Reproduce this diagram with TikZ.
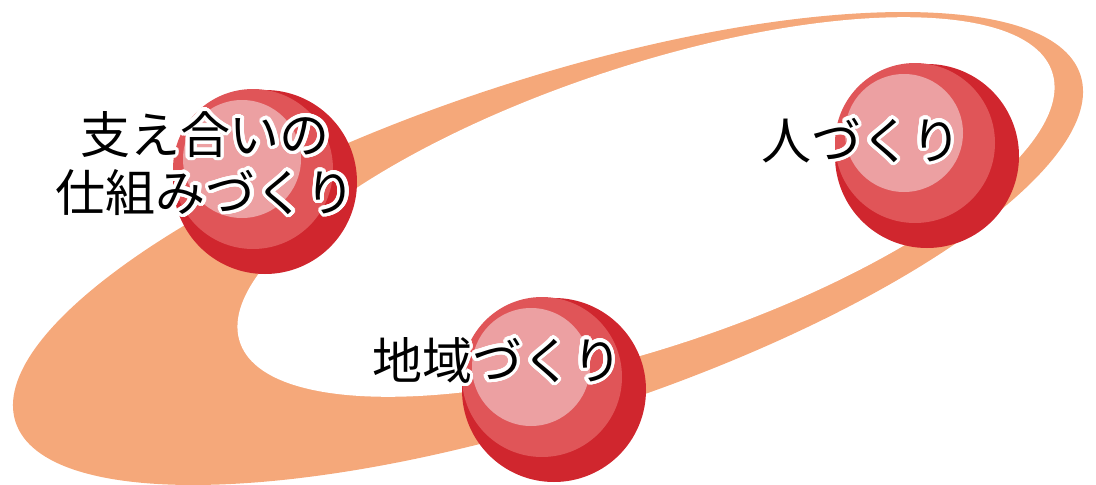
\documentclass[tikz,border=0pt]{standalone}
\usepackage{fontspec}
\newfontfamily\jp{Noto Sans CJK JP}
\usepackage[copies]{contour}
\contourlength{3.4pt}
\contournumber{32}
\definecolor{ringc}{HTML}{F5A87A}
\definecolor{redA}{HTML}{D0262E}
\definecolor{redB}{HTML}{E05558}
\definecolor{redC}{HTML}{ECA0A2}
\tikzset{
  ball/.pic={
    \fill[redA] (0,0) circle[radius=92pt];
    \fill[redB] (-12,-13) circle[radius=80pt];
    \fill[redC] (-23,-23) circle[radius=59pt];
  },
  lbl/.style={font=\jp\fontsize{50pt}{58pt}\selectfont, text=black, inner sep=0pt}
}
\begin{document}
\begin{tikzpicture}[x=1pt,y=-1pt]
\useasboundingbox (0,0) rectangle (1096,485);
% ring
\fill[ringc, rotate around={18.05:(548,248.5)}] (548,248.5) ellipse [x radius=560pt, y radius=169pt];
\fill[white, rotate around={18.4:(646,207)}] (646,207) ellipse [x radius=428pt, y radius=140.5pt];
% spheres
\pic (s1) at (265,182) {ball};
\pic (s2) at (927,156) {ball};
\pic (s3) at (554,390) {ball};
% labels
\node[lbl] (t1a) at (205,136) {\contour{white}{支え合いの}};
\node[lbl] (t1b) at (206,194) {\contour{white}{仕組みづくり}};
\node[lbl] (t2) at (861,142) {\contour{white}{人づくり}};
\node[lbl] (t3) at (497,362) {\contour{white}{地域づくり}};
\end{tikzpicture}
\end{document}
